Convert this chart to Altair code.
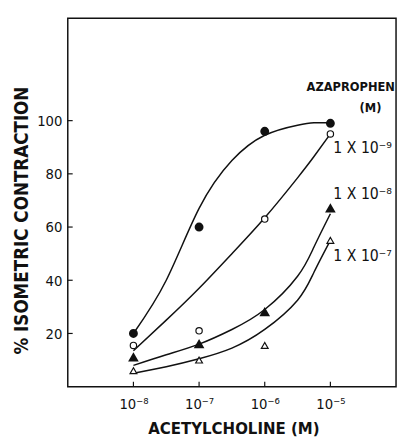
import altair as alt
import pandas as pd

FONT = "Liberation Sans Narrow, DejaVu Sans Condensed, Roboto, sans-serif"

# Acetylcholine concentration (log10 M)
conc_exp = [-8, -7, -6, -5]
x_tick_labels = ["10⁻⁸", "10⁻⁷", "10⁻⁶", "10⁻⁵"]
y_ticks = [20, 40, 60, 80, 100]

# Measured points (% isometric contraction)
y_filled_circle = [20, 60, 96, 99]      # control
y_open_circle = [15.5, 21, 63, 95]      # 1 x 10^-9 M
y_filled_tri = [11, 16, 28, 67]         # 1 x 10^-8 M
y_open_tri = [6, 10, 15.5, 55]          # 1 x 10^-7 M

# Hand-fitted curves
curve_x = [-8, -7.5, -7, -6.5, -6, -5.5, -5.25, -5]
curve_filled_circle = [20, 40, 67, 85, 94.5, 98.3, 99.2, 99.2]
curve_open_circle = [13.5, 25, 37, 50, 63.5, 78.5, 86.5, 95]
curve_filled_tri = [8, 12, 16, 21.5, 29, 41.5, 52.5, 65]
curve_open_tri = [5, 7.5, 10.5, 14.5, 21.5, 32.5, 43, 55]

series_names = ["control", "1e-9", "1e-8", "1e-7"]

# Annotations
header_text = ["AZAPROPHEN", "(M)"]
header_x = [-4.69, -4.39]
header_y = [112.7, 104.6]
series_labels = ["1 X 10⁻⁹", "1 X 10⁻⁸", "1 X 10⁻⁷"]
series_label_x = [-4.955, -4.955, -4.955]
series_label_y = [89.8, 72.5, 49.2]

pts = pd.DataFrame({
    "x": conc_exp * 4,
    "y": y_filled_circle + y_open_circle + y_filled_tri + y_open_tri,
    "series": sum([[s] * 4 for s in series_names], []),
})
curves = pd.DataFrame({
    "x": curve_x * 4,
    "y": curve_filled_circle + curve_open_circle + curve_filled_tri + curve_open_tri,
    "series": sum([[s] * len(curve_x) for s in series_names], []),
})
header_df = pd.DataFrame({"x": header_x, "y": header_y, "t": header_text})
labels_df = pd.DataFrame({"x": series_label_x, "y": series_label_y, "t": series_labels})
yt_df = pd.DataFrame({"y": y_ticks})
xt_df = pd.DataFrame({"x": conc_exp})

label_expr = ""
for v, lab in zip(conc_exp, x_tick_labels):
    label_expr += f"datum.value == {v} ? '{lab}' : "
label_expr += "''"

xscale = alt.Scale(domain=[-9, -4], nice=False, zero=False)
yscale = alt.Scale(domain=[0, 138.5], nice=False, zero=False)

x_enc = alt.X("x:Q", scale=xscale, axis=alt.Axis(
    values=conc_exp, labelExpr=label_expr, title="ACETYLCHOLINE  (M)",
    domain=False, grid=False, ticks=False, tickSize=0,
    labelFont=FONT, labelFontSize=15, labelColor="#111",
    labelBaseline="alphabetic", labelPadding=22,
    titleFont=FONT, titleFontSize=17, titleFontWeight="bold", titleColor="#111",
    titleX=169, titleY=48, titleBaseline="alphabetic", titleAnchor="middle",
    titleAlign="center",
))
y_enc = alt.Y("y:Q", scale=yscale, axis=alt.Axis(
    values=y_ticks, title="%  ISOMETRIC  CONTRACTION",
    domain=False, grid=False, ticks=False, tickSize=0,
    labelFont=FONT, labelFontSize=15, labelColor="#111", labelPadding=6,
    titleFont=FONT, titleFontSize=19, titleFontWeight="bold", titleColor="#111",
    titleX=-47, titleY=206, titleAngle=270, titleBaseline="middle",
    titleAlign="center",
))

base_c = alt.Chart(curves)
lines = base_c.mark_line(interpolate="natural", color="#111", strokeWidth=1.5).encode(
    x=x_enc, y=y_enc, detail="series:N"
)

base_p = alt.Chart(pts)
fc = base_p.transform_filter("datum.series == 'control'").mark_point(
    shape="circle", filled=True, fill="#111", stroke="#111", size=50, opacity=1
).encode(x="x:Q", y="y:Q")
oc = base_p.transform_filter("datum.series == '1e-9'").mark_point(
    shape="circle", filled=True, fill="white", stroke="#111", strokeWidth=1.2, size=42, opacity=1
).encode(x="x:Q", y="y:Q")
ft = base_p.transform_filter("datum.series == '1e-8'").mark_point(
    shape="triangle-up", filled=True, fill="#111", stroke="#111", size=55, opacity=1
).encode(x="x:Q", y="y:Q")
ot = base_p.transform_filter("datum.series == '1e-7'").mark_point(
    shape="triangle-up", filled=True, fill="white", stroke="#111", strokeWidth=1.2, size=48, opacity=1
).encode(x="x:Q", y="y:Q")

header = alt.Chart(header_df).mark_text(
    font=FONT, fontSize=13, fontWeight="bold", color="#111", align="center", baseline="middle"
).encode(x="x:Q", y="y:Q", text="t:N")
slabels = alt.Chart(labels_df).mark_text(
    font=FONT, fontSize=16, color="#111", align="left", baseline="middle"
).encode(x="x:Q", y="y:Q", text="t:N")

ytick_rules = alt.Chart(yt_df).mark_rule(color="#111", strokeWidth=1.2).encode(
    y="y:Q", x=alt.value(0), x2=alt.value(5)
)
xtick_rules = alt.Chart(xt_df).mark_rule(color="#111", strokeWidth=1.2).encode(
    x="x:Q", y=alt.value(376), y2=alt.value(371)
)

chart = alt.layer(
    lines, fc, oc, ft, ot, header, slabels, ytick_rules, xtick_rules
).properties(
    width=335, height=376,
    autosize=alt.AutoSizeParams(type="none"),
    padding={"left": 61, "top": 6, "right": 2, "bottom": 50},
    background="white",
).configure_view(stroke="#111", strokeWidth=1.5)

chart.save("out.html", embed_options={"renderer": "svg", "actions": False})
